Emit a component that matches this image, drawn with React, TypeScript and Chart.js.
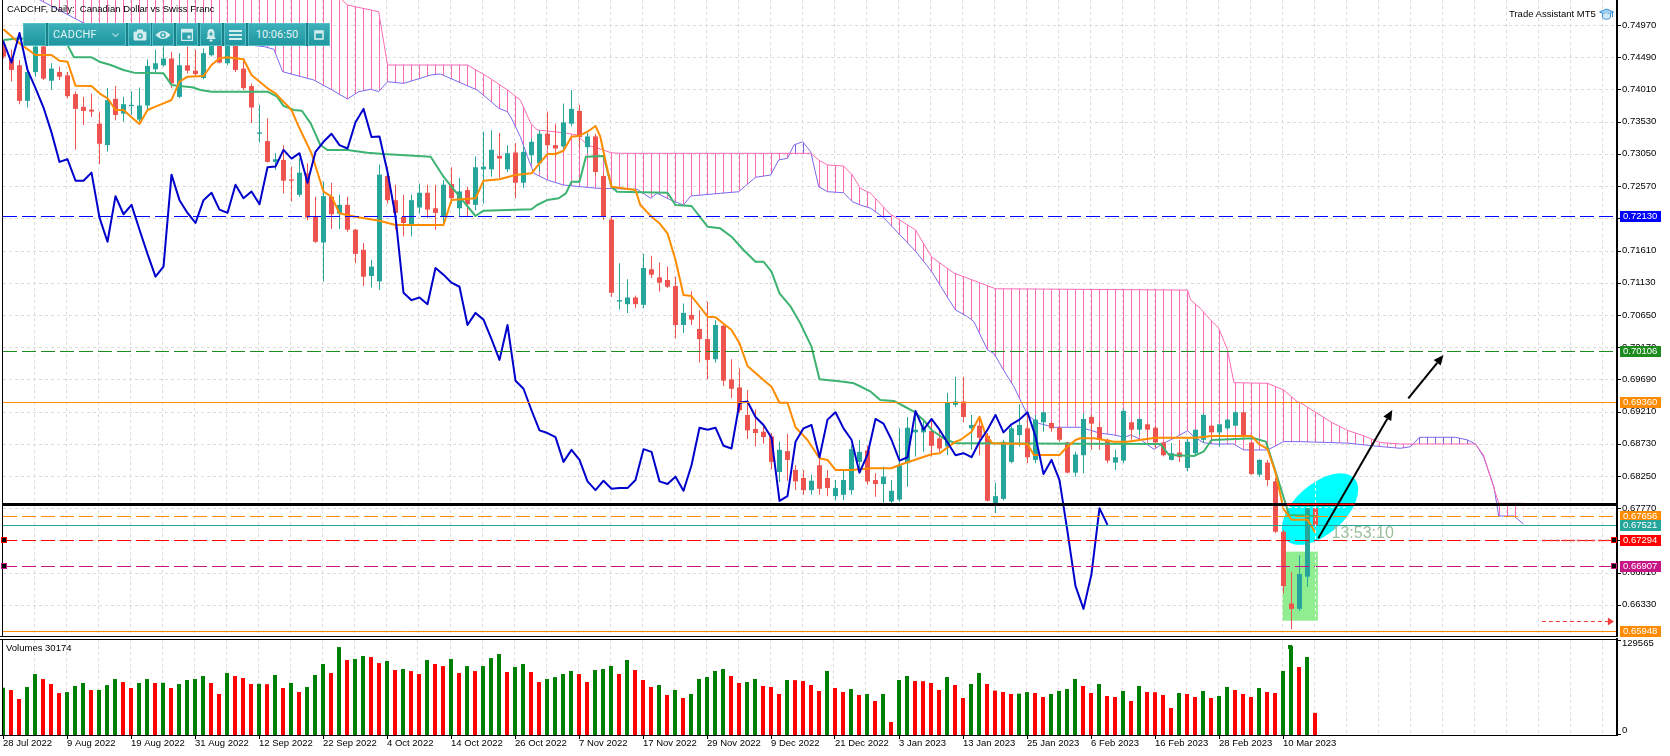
import React, { useEffect, useRef } from "react";
import { Chart, registerables } from "chart.js";

Chart.register(...registerables);

// ---------------- data ----------------
const DATE_LABELS = [
  "28 Jul 2022", "9 Aug 2022", "19 Aug 2022", "31 Aug 2022", "12 Sep 2022", "22 Sep 2022",
  "4 Oct 2022", "14 Oct 2022", "26 Oct 2022", "7 Nov 2022", "17 Nov 2022", "29 Nov 2022",
  "9 Dec 2022", "21 Dec 2022", "3 Jan 2023", "13 Jan 2023", "25 Jan 2023", "6 Feb 2023",
  "16 Feb 2023", "28 Feb 2023", "10 Mar 2023",
];
const BARS_PER_LABEL = 8;

const OPEN = [
  .7465, .7446, .7437, .7384, .7427, .7465, .7414, .7427, .7422, .7394,
  .7375, .7371, .7350, .7318, .7387, .7365, .7376, .7356, .7377, .7431,
  .7437, .7447, .7390, .7437, .7429, .7418, .7452, .7470, .7440, .7483,
  .7432, .7406, .7335, .7324, .7293, .7296, .7267, .7244, .7276, .7211,
  .7173, .7241, .7216, .7229, .7192, .7162, .7123, .7115, .7272, .7236,
  .7211, .7200, .7225, .7247, .7224, .7212, .7260, .7224, .7251, .7229,
  .7282, .7282, .7302, .7282, .7307, .7262, .7303, .7291, .7335, .7318,
  .7316, .7350, .7369, .7315, .7331, .7272, .7207, .7085, .7081, .7091,
  .7080, .7133, .7121, .7117, .7108, .7050, .7065, .7044, .7029, .6999,
  .7049, .6969, .6957, .6916, .6895, .6891, .6884, .6831, .6862, .6834,
  .6822, .6804, .6841, .6822, .6795, .6797, .6804, .6846, .6863, .6819,
  .6813, .6787, .6790, .6844, .6890, .6890, .6892, .6881, .6869, .6931,
  .6936, .6896, .6900, .6885, .6784, .6791, .6846, .6886, .6896, .6849,
  .6905, .6904, .6897, .6875, .6830, .6856, .6913, .6898, .6879, .6845,
  .6848, .6905, .6894, .6902, .6897, .6875, .6849, .6860, .6837, .6859,
  .6879, .6900, .6890, .6896, .6900, .6920, .6875, .6827, .6845, .6817,
  .6742, .6635, .6627, .6675, .6777,
];
const HIGH = [
  .7475, .7460, .7445, .7435, .7475, .7475, .7440, .7435, .7427, .7398,
  .7390, .7395, .7368, .7403, .7406, .7390, .7398, .7404, .7446, .7460,
  .7466, .7457, .7455, .7465, .7460, .7462, .7482, .7480, .7490, .7490,
  .7447, .7410, .7378, .7358, .7306, .7318, .7286, .7298, .7291, .7241,
  .7264, .7262, .7244, .7241, .7193, .7172, .7147, .7289, .7286, .7259,
  .7244, .7244, .7261, .7259, .7259, .7266, .7285, .7269, .7256, .7301,
  .7338, .7340, .7336, .7318, .7321, .7316, .7328, .7340, .7368, .7350,
  .7380, .7400, .7378, .7336, .7335, .7277, .7211, .7142, .7118, .7094,
  .7156, .7153, .7143, .7137, .7122, .7082, .7100, .7072, .7085, .7057,
  .7050, .6999, .6985, .6953, .6924, .6903, .6889, .6876, .6888, .6841,
  .6834, .6827, .6852, .6834, .6819, .6834, .6871, .6879, .6870, .6829,
  .6839, .6819, .6896, .6913, .6921, .6909, .6909, .6894, .6949, .6973,
  .6973, .6916, .6911, .6889, .6815, .6879, .6899, .6932, .6921, .6916,
  .6921, .6905, .6899, .6876, .6861, .6918, .6916, .6906, .6881, .6864,
  .6925, .6906, .6911, .6904, .6899, .6876, .6874, .6879, .6881, .6894,
  .6918, .6901, .6903, .6910, .6922, .6922, .6876, .6850, .6849, .6822,
  .6745, .6682, .6707, .6783, .6787,
];
const LOW = [
  .7447, .7413, .7379, .7374, .7420, .7415, .7400, .7415, .7388, .7311,
  .7348, .7360, .7290, .7308, .7355, .7353, .7363, .7353, .7370, .7427,
  .7435, .7403, .7388, .7425, .7421, .7416, .7450, .7440, .7437, .7427,
  .7400, .7351, .7322, .7292, .7281, .7246, .7234, .7241, .7206, .7172,
  .7115, .7193, .7193, .7189, .7142, .7108, .7106, .7102, .7231, .7192,
  .7182, .7182, .7216, .7209, .7192, .7202, .7231, .7211, .7211, .7221,
  .7231, .7271, .7269, .7278, .7239, .7254, .7290, .7279, .7311, .7300,
  .7311, .7346, .7313, .7306, .7272, .7207, .7092, .7073, .7068, .7075,
  .7075, .7120, .7100, .7105, .7030, .7038, .7050, .6994, .6969, .6994,
  .6959, .6941, .6919, .6880, .6869, .6873, .6835, .6816, .6818, .6804,
  .6797, .6797, .6797, .6795, .6789, .6789, .6797, .6834, .6812, .6794,
  .6785, .6781, .6787, .6809, .6854, .6861, .6854, .6861, .6856, .6928,
  .6905, .6864, .6856, .6787, .6770, .6789, .6844, .6869, .6844, .6844,
  .6891, .6891, .6876, .6829, .6824, .6829, .6864, .6864, .6844, .6834,
  .6844, .6879, .6886, .6879, .6866, .6854, .6848, .6846, .6832, .6856,
  .6874, .6879, .6869, .6894, .6899, .6881, .6827, .6824, .6810, .6740,
  .6650, .65965, .6624, .6660, .6748,
];
const CLOSE = [
  .7450, .7430, .7384, .7427, .7465, .7417, .7432, .7420, .7391, .7372,
  .7369, .7368, .7320, .7385, .7363, .7379, .7378, .7377, .7436, .7440,
  .7447, .7410, .7437, .7429, .7424, .7455, .7472, .7441, .7485, .7430,
  .7403, .7374, .7337, .7293, .7297, .7265, .7265, .7277, .7210, .7174,
  .7242, .7215, .7229, .7192, .7156, .7122, .7137, .7274, .7236, .7217,
  .7202, .7236, .7247, .7222, .7217, .7259, .7239, .7249, .7230, .7285,
  .7286, .7311, .7298, .7306, .7262, .7308, .7323, .7335, .7318, .7313,
  .7352, .7372, .7330, .7331, .7278, .7212, .7098, .7087, .7091, .7081,
  .7135, .7125, .7113, .7107, .7050, .7068, .7058, .7029, .6998, .7050,
  .6967, .6955, .6923, .6893, .6889, .6883, .6846, .6864, .6849, .6817,
  .6804, .6818, .6806, .6807, .6807, .6819, .6865, .6861, .6817, .6813,
  .6824, .6803, .6841, .6897, .6894, .6897, .6870, .6866, .6934, .6936,
  .6913, .6901, .6882, .6788, .6795, .6876, .6896, .6901, .6853, .6909,
  .6920, .6896, .6879, .6830, .6857, .6910, .6903, .6879, .6848, .6853,
  .6922, .6894, .6910, .6894, .6875, .6856, .6859, .6853, .6876, .6894,
  .6916, .6890, .6902, .6909, .6920, .6884, .6828, .6849, .6819, .6742,
  .6661, .6627, .6679, .6777, .67521,
];
const VOLUME = [
  64500, 61300, 49100, 65400, 83100, 76300, 69500, 57200, 58600, 66800,
  70900, 61300, 61500, 68100, 76300, 72200, 64100, 70900, 76300, 70900,
  71200, 64100, 69500, 75000, 76300, 80400, 70900, 55900, 84500, 80400,
  77700, 69500, 69800, 69300, 81800, 64100, 70900, 58600, 65400, 81800,
  96800, 84500, 119900, 102200, 103600, 107700, 106300, 98100, 100900, 88600,
  90000, 87200, 83100, 102200, 96800, 94000, 103600, 84500, 94000, 87200,
  94000, 104900, 110400, 85900, 92700, 96800, 85900, 72200, 76300, 79000,
  83200, 87300, 83100, 72300, 88600, 90000, 94100, 83200, 102300, 88600,
  75000, 65500, 68200, 54600, 61400, 50500, 55900, 76400, 79100, 87300,
  90000, 80500, 70900, 72300, 76400, 66800, 65500, 55900, 75000, 74800,
  73600, 68200, 60000, 87300, 64100, 58600, 62700, 54600, 55900, 46400,
  55900, 17700, 75000, 80500, 73600, 73400, 70900, 61400, 79100, 68200,
  50500, 69600, 84600, 69600, 60500, 58600, 55900, 56400, 58600, 57300,
  51800, 55900, 60000, 62700, 76400, 66800, 57300, 69600, 53200, 51800,
  60000, 46400, 66800, 58600, 58400, 54600, 36800, 57300, 55900, 51800,
  60000, 50500, 53200, 65500, 61400, 55900, 51800, 64100, 58600, 57300,
  87300, 121400, 92700, 106400, 30174,
];
const VOLUME_SCALE_MAX = 129565;

// Ichimoku lines, vertices: [bar index, price]
const TENKAN = [
  [0, .74906], [2, .74697], [4, .74523], [6, .74523], [7, .74438], [8, .74423], [9, .74066], [11, .74061],
  [12, .73952], [13, .73878], [14, .73703], [15, .73703], [16, .73595], [17, .73495], [18, .73703], [19, .73753],
  [20, .73803], [21, .73853], [22, .74125], [23, .742], [25, .7421], [26, .74374], [27, .74474], [28, .74489],
  [30, .74459], [31, .74225], [33, .74027], [34, .73952], [36, .73703], [37, .73431], [38.5, .73058], [40, .72486],
  [41, .72412], [42, .72164], [44, .72114], [47, .72054], [49, .7199], [55, .7199], [56, .72363], [59, .72388],
  [60, .72651], [62, .72671], [64, .72735], [66, .7276], [67, .72909], [68, .73048], [69, .73048], [70, .73097],
  [71, .73306], [72, .73321], [73, .7338], [74, .73465], [74.6, .73306], [75.5, .7281], [76, .72561], [79, .72512],
  [79.6, .72288], [81, .72114], [82, .72015], [83, .71866], [84, .71468], [85, .70947], [86, .70932], [88, .70624],
  [89, .70615], [91, .70425], [92, .70227], [93, .69889], [95, .6968], [96, .69581], [97, .69342], [98, .69342],
  [99, .68976], [100.5, .68787], [102, .68514], [103, .68489], [104, .6834], [106, .6834], [108.4, .68365], [111, .68365],
  [112, .68414], [116, .68574], [117, .68588], [119, .68762], [119.6, .68787], [121, .6891], [122, .69134], [122.7, .68886],
  [123.6, .68737], [128, .68727], [128.8, .68563], [132, .68563], [133, .68687], [134, .68787], [134.6, .68812], [136.3, .68812],
  [138.8, .68762], [140.5, .68762], [142, .68787], [144, .68821], [149, .68821], [151, .68846], [156, .68846], [157, .68722],
  [158, .68653], [159, .6830], [160, .6776], [161, .6760], [163, .6760], [164, .6740],
];
const KIJUN = [
  [0, .74747], [2, .74772], [7, .747], [8, .74672], [8.8, .74489], [11, .74489], [12, .74423], [13.4, .74374],
  [15, .743], [16.3, .7426], [20, .7425], [21, .74076], [22, .74061], [23.6, .74042], [24.6, .74002], [26, .73977],
  [33, .73977], [34.2, .73902], [35, .73764], [36.3, .73703], [37.3, .73693], [38.4, .73505], [39.6, .73182], [40.5, .73108],
  [43, .73108], [45.5, .73067], [47.5, .73048], [53.4, .73008], [55, .7271], [57, .72412], [59, .72124], [60, .72203],
  [66, .72224], [66.7, .72288], [68, .72363], [69.4, .72388], [70.3, .72462], [71, .72635], [72, .72635], [72.8, .73008],
  [75, .73018], [76, .72561], [76.7, .72486], [83, .72471], [84, .72288], [86, .72273], [88, .71965], [89.6, .7194],
  [91, .71816], [92.5, .71618], [94, .71443], [95, .71443], [96, .71294], [97, .70972], [98.4, .70773], [99.6, .70525],
  [101, .70177], [102, .69691], [105, .69656], [106.3, .69631], [107, .69591], [108.4, .69506], [109.6, .69383], [111.3, .69368],
  [112.5, .69293], [113.8, .69208], [115, .69085], [116, .68936], [117.5, .68812], [119, .68737], [144.6, .68727], [145.7, .68563],
  [148.8, .68548], [150, .68612], [151, .68787], [156.3, .68812], [157.8, .68762], [159.2, .6824], [160.7, .6767], [164, .67655],
];
const SPAN_A = [
  [0, .756], [4.6, .7534], [10, .75], [15, .7485], [25, .7475], [32.6, .74647], [33.8, .74608], [34.9, .74274],
  [38.8, .7415], [40.7, .74027], [43, .73868], [44.4, .73977], [45.9, .74012], [46.9, .73977], [48, .74125], [50, .741],
  [52.1, .74176], [53.4, .74225], [54.6, .7424], [59.2, .74002], [60.7, .73853], [61.9, .73729], [63, .73678], [63.6, .73555],
  [64.6, .73306], [65.5, .73008], [66.3, .7276], [68, .7266], [70, .72586], [74.2, .72537], [79.2, .72522], [80.9, .72388],
  [81.7, .72462], [83.4, .72363], [85, .72288], [85.9, .72422], [89.6, .72462], [91.9, .72486], [94, .72701], [95.9, .72735],
  [96.9, .72959], [98, .72984], [98.8, .73182], [99.9, .73231], [100.9, .73082], [101.9, .72561], [103, .72486], [105, .72471],
  [106.1, .72337], [107.1, .72288], [108.4, .72239], [110, .721], [112, .7185], [114, .716], [116, .713], [118.2, .70873],
  [119, .70724], [120.5, .70624], [121.3, .7055], [123, .70128], [123.8, .70078], [125, .6983], [126.3, .69581], [127.1, .69383],
  [128, .6916], [129.4, .69035], [131.3, .68976], [134.6, .68976], [137.1, .68887], [138.8, .68862], [140.1, .68827], [140.9, .68862],
  [142.1, .68797], [143.8, .68648], [145, .68737], [146.7, .68836], [148, .68925], [148.8, .68836], [150, .68747], [151.3, .68727],
  [153.8, .68727], [155, .68638], [158, .68638], [158.8, .68687], [160, .68762], [162.1, .68762], [168, .6874], [172, .6869],
  [174.6, .68663], [175.9, .68687], [177, .68827], [181.5, .68827], [183, .68787], [184, .68727], [185, .68538], [186.3, .68091],
  [186.9, .67654], [188.8, .67654], [190, .67535],
];
const SPAN_B = [
  [0, .76], [42, .7538], [43, .75268], [46.9, .75168], [48, .74374], [58, .74374], [60.5, .742], [63, .74002],
  [64.6, .73853], [65.9, .73505], [66.7, .73406], [70, .73365], [71.7, .73331], [73, .73182], [75, .73108], [75.9, .73067],
  [77.1, .73058], [100.9, .73058], [101.9, .72959], [103, .72884], [105, .7287], [106.1, .72735], [107.1, .72537], [108.4, .72462],
  [110.8, .72155], [114, .71916], [116, .71513], [118.8, .71275], [124, .7104], [148, .7102], [148.4, .70873], [149.6, .70749],
  [150.9, .70575], [151.9, .70451], [153, .70128], [153.8, .69641], [158, .69631], [160, .69532], [161.7, .69358], [162.1, .69343],
  [164, .692], [166, .6905], [168, .6893], [170, .6885], [172, .6875], [174.6, .68727], [184, .68727], [185, .68563],
  [186.9, .67843], [190, .67843],
];
const CHIKOU_SHIFT = 26;

const PRICE_TICKS = [
  0.7497, 0.7449, 0.7401, 0.7353, 0.7305, 0.7257, 0.7209, 0.7161, 0.7113, 0.7065,
  0.7017, 0.6969, 0.6921, 0.6873, 0.6825, 0.6777, 0.6729, 0.6681, 0.6633,
];
const LEVELS = [0.7213, 0.70106, 0.6936, 0.6783, 0.67656, 0.67521, 0.67294, 0.66907, 0.65948];

// drawn objects anchored at [bar index, price]
const ZONE_BOX = [159.9, 0.67123, 164.3, 0.66094];
const ELLIPSE_CENTER = [164.56, 0.67757];
const ARROW_1 = [164.35, 0.67322, 173.6, 0.69234];
const ARROW_2 = [175.6, 0.69408, 180.0, 0.70053];
const RED_SEGMENT = [160.4, 168.9, 0.6783];
const TIMER_ANCHOR = [166.0, 0.67396];
const TIMER_TEXT = "13:53:10";
const PENDING_ARROW = [192.3, 201.3, 0.6609];
const PENDING_DOTS = [192.3, 201.0, 0.67294];

// ---------------- layout / style ----------------
const W = 1670;
const MAIN_H = 637;
const VOL_TOP = 638;
const VOL_H = 118;
const AXIS_W = 53;
const PX_PER_BAR = 8;
const PLOT_W = 1614;
const MAIN_X_MIN = -0.0625;
const VOL_X_MIN = 0;
const PRICE_MIN = 0.658661;
const PRICE_MAX = 0.753425;
const FONT = '"Liberation Sans", Arial, sans-serif';
const BULL = "#26a69a";
const BEAR = "#ef5350";

const LEVEL_STYLE = [
  { color: "#0000ff", dash: [14, 5], width: 1, label: true },
  { color: "#1e8b1e", dash: [14, 5], width: 1, label: true },
  { color: "#ff8c00", dash: [], width: 1, label: true },
  { color: "#000000", dash: [], width: 3, label: false },
  { color: "#ff8c00", dash: [14, 5], width: 1, label: true },
  { color: "#26a69a", dash: [], width: 1, label: true },
  { color: "#ff0000", dash: [14, 5], width: 1, label: true },
  { color: "#c71585", dash: [14, 5], width: 1, label: true },
  { color: "#ff8c00", dash: [], width: 1, label: true },
];

function makeHatch(color: string) {
  const c = document.createElement("canvas");
  c.width = 8;
  c.height = 4;
  const g = c.getContext("2d")!;
  g.fillStyle = color;
  g.fillRect(3, 0, 1, 4);
  return g.createPattern(c, "repeat");
}

function drawArrow(ctx: CanvasRenderingContext2D, x1: number, y1: number, x2: number, y2: number) {
  const ang = Math.atan2(y2 - y1, x2 - x1);
  const hl = 10, hw = 4.5;
  const bx = x2 - Math.cos(ang) * hl, by = y2 - Math.sin(ang) * hl;
  ctx.strokeStyle = "#000";
  ctx.fillStyle = "#000";
  ctx.lineWidth = 2;
  ctx.setLineDash([]);
  ctx.beginPath();
  ctx.moveTo(x1, y1);
  ctx.lineTo(bx, by);
  ctx.stroke();
  ctx.beginPath();
  ctx.moveTo(x2, y2);
  ctx.lineTo(bx + Math.sin(ang) * hw, by - Math.cos(ang) * hw);
  ctx.lineTo(bx - Math.sin(ang) * hw, by + Math.cos(ang) * hw);
  ctx.closePath();
  ctx.fill();
}

const mainDeco = {
  id: "mainDeco",
  beforeDatasetsDraw(chart: any) {
    const { ctx, chartArea: a, scales } = chart;
    const xs = scales.x, ys = scales.y;
    ctx.save();
    ctx.beginPath();
    ctx.rect(a.left, a.top, a.right - a.left, a.bottom - a.top);
    ctx.clip();
    // grid
    ctx.strokeStyle = "#dcdcdc";
    ctx.lineWidth = 1;
    ctx.setLineDash([3, 3]);
    ctx.beginPath();
    for (const v of PRICE_TICKS) {
      const py = Math.round(ys.getPixelForValue(v)) + 0.5;
      ctx.moveTo(a.left, py);
      ctx.lineTo(a.right, py);
    }
    for (let k = 0; k * 4 <= xs.max; k++) {
      const px = Math.floor(xs.getPixelForValue(k * 4)) - 0.5;
      ctx.moveTo(px, a.top);
      ctx.lineTo(px, a.bottom);
    }
    ctx.stroke();
    ctx.setLineDash([]);
    // light green zone
    const zx0 = xs.getPixelForValue(ZONE_BOX[0]);
    const zx1 = xs.getPixelForValue(ZONE_BOX[2]);
    const zy0 = ys.getPixelForValue(ZONE_BOX[1]);
    const zy1 = ys.getPixelForValue(ZONE_BOX[3]);
    ctx.fillStyle = "#90ee90";
    ctx.fillRect(zx0, zy0, zx1 - zx0, zy1 - zy0);
    // cyan ellipse
    ctx.fillStyle = "#00ffff";
    ctx.beginPath();
    ctx.ellipse(xs.getPixelForValue(ELLIPSE_CENTER[0]), ys.getPixelForValue(ELLIPSE_CENTER[1]), 46, 25, (-41.5 * Math.PI) / 180, 0, Math.PI * 2);
    ctx.fill();
    ctx.restore();
  },
  afterDatasetsDraw(chart: any) {
    const { ctx, chartArea: a, scales } = chart;
    const xs = scales.x, ys = scales.y;
    ctx.save();
    ctx.beginPath();
    ctx.rect(a.left, a.top, a.right - a.left, a.bottom - a.top);
    ctx.clip();
    // horizontal levels
    LEVELS.forEach((v, k) => {
      const st = LEVEL_STYLE[k];
      const py = st.width % 2 === 1 ? Math.round(ys.getPixelForValue(v)) + 0.5 : ys.getPixelForValue(v);
      ctx.strokeStyle = st.color;
      ctx.lineWidth = st.width;
      ctx.setLineDash(st.dash);
      ctx.beginPath();
      ctx.moveTo(a.left, py);
      ctx.lineTo(a.right, py);
      ctx.stroke();
    });
    ctx.setLineDash([]);
    // red segment on the black line
    ctx.strokeStyle = "#ff0000";
    ctx.lineWidth = 1.5;
    ctx.beginPath();
    const ry = ys.getPixelForValue(RED_SEGMENT[2]);
    ctx.moveTo(xs.getPixelForValue(RED_SEGMENT[0]), ry);
    ctx.lineTo(xs.getPixelForValue(RED_SEGMENT[1]), ry);
    ctx.stroke();
    // white dashed guides inside the zone
    ctx.strokeStyle = "rgba(255,255,255,0.9)";
    ctx.lineWidth = 1;
    ctx.setLineDash([3, 3]);
    ctx.beginPath();
    const gx = Math.round(xs.getPixelForValue(ZONE_BOX[2]) - 3) + 0.5;
    ctx.moveTo(gx, ys.getPixelForValue(0.68518));
    ctx.lineTo(gx, ys.getPixelForValue(ZONE_BOX[3]));
    const gy = Math.round(ys.getPixelForValue(0.67788)) + 0.5;
    ctx.moveTo(xs.getPixelForValue(ZONE_BOX[0]), gy);
    ctx.lineTo(xs.getPixelForValue(168.0), gy);
    ctx.stroke();
    // pending order marks (dotted red)
    ctx.strokeStyle = "#f03c3c";
    ctx.setLineDash([4, 3]);
    ctx.lineWidth = 1.5;
    const pdy = Math.round(ys.getPixelForValue(PENDING_DOTS[2])) + 0.5;
    ctx.beginPath();
    ctx.moveTo(xs.getPixelForValue(PENDING_DOTS[0]), pdy);
    ctx.lineTo(xs.getPixelForValue(PENDING_DOTS[1]), pdy);
    ctx.stroke();
    const pay = Math.round(ys.getPixelForValue(PENDING_ARROW[2])) + 0.5;
    const pax0 = xs.getPixelForValue(PENDING_ARROW[0]);
    const pax1 = xs.getPixelForValue(PENDING_ARROW[1]);
    ctx.lineWidth = 1;
    ctx.beginPath();
    ctx.moveTo(pax0, pay);
    ctx.lineTo(pax1 - 4, pay);
    ctx.stroke();
    ctx.setLineDash([]);
    ctx.fillStyle = "#f03c3c";
    ctx.beginPath();
    ctx.moveTo(pax1, pay);
    ctx.lineTo(pax1 - 6, pay - 4);
    ctx.lineTo(pax1 - 6, pay + 4);
    ctx.closePath();
    ctx.fill();
    // arrows
    drawArrow(ctx, xs.getPixelForValue(ARROW_1[0]), ys.getPixelForValue(ARROW_1[1]), xs.getPixelForValue(ARROW_1[2]), ys.getPixelForValue(ARROW_1[3]));
    drawArrow(ctx, xs.getPixelForValue(ARROW_2[0]), ys.getPixelForValue(ARROW_2[1]), xs.getPixelForValue(ARROW_2[2]), ys.getPixelForValue(ARROW_2[3]));
    // timer text
    ctx.fillStyle = "#9cbf9c";
    ctx.font = `16px ${FONT}`;
    ctx.textBaseline = "middle";
    ctx.textAlign = "left";
    ctx.fillText(TIMER_TEXT, xs.getPixelForValue(TIMER_ANCHOR[0]), ys.getPixelForValue(TIMER_ANCHOR[1]));
    ctx.restore();
  },
  afterDraw(chart: any) {
    const { ctx, chartArea: a, scales } = chart;
    const ys = scales.y;
    ctx.save();
    ctx.fillStyle = "#000";
    ctx.fillRect(a.right - 1, 0, 2, a.bottom + 1);
    ctx.fillRect(0, a.bottom, a.right, 1);
    ctx.fillRect(2, 0, 1, a.bottom);
    for (const v of PRICE_TICKS) {
      const py = Math.round(ys.getPixelForValue(v));
      ctx.fillRect(a.right + 1, py, 3, 1);
    }
    // edge markers for the two pending levels
    [[6, "#ff0000"], [7, "#c71585"]].forEach(([k, col]: any) => {
      const py = Math.round(ys.getPixelForValue(LEVELS[k]));
      for (const mx of [1, a.right - 6]) {
        ctx.fillStyle = col;
        ctx.fillRect(mx, py - 3, 6, 6);
        ctx.fillStyle = "#000";
        ctx.fillRect(mx + 1, py - 2, 4, 4);
      }
    });
    // price labels
    ctx.font = `9.5px ${FONT}`;
    ctx.textBaseline = "middle";
    ctx.textAlign = "left";
    LEVELS.forEach((v, k) => {
      const st = LEVEL_STYLE[k];
      if (!st.label) return;
      const py = Math.round(ys.getPixelForValue(v));
      ctx.fillStyle = st.color;
      ctx.fillRect(a.right + 3, py - 5, 41, 11);
      ctx.fillStyle = "#ffffff";
      ctx.fillText(v.toFixed(5), a.right + 6, py + 0.5);
    });
    ctx.restore();
  },
};

const volDeco = {
  id: "volDeco",
  beforeDatasetsDraw(chart: any) {
    const { ctx, chartArea: a, scales } = chart;
    const xs = scales.x;
    ctx.save();
    ctx.strokeStyle = "#dcdcdc";
    ctx.lineWidth = 1;
    ctx.setLineDash([3, 3]);
    ctx.beginPath();
    for (let k = 0; k * 4 <= xs.max; k++) {
      const px = Math.floor(xs.getPixelForValue(k * 4)) - 0.5;
      ctx.moveTo(px, a.top);
      ctx.lineTo(px, a.bottom);
    }
    ctx.stroke();
    ctx.restore();
  },
  afterDraw(chart: any) {
    const { ctx, chartArea: a, scales } = chart;
    const xs = scales.x;
    ctx.save();
    ctx.fillStyle = "#000";
    ctx.fillRect(0, 1, a.right, 1);
    ctx.fillRect(0, a.bottom, a.right, 1);
    ctx.fillRect(a.right - 1, 0, 2, a.bottom + 1);
    ctx.fillRect(2, 1, 1, a.bottom);
    DATE_LABELS.forEach((_, k) => {
      ctx.fillRect(Math.floor(xs.getPixelForValue(k * BARS_PER_LABEL)), a.bottom + 1, 1, 3);
    });
    ctx.fillRect(a.right + 1, a.top, 3, 1);
    ctx.fillRect(a.right + 1, a.bottom - 1, 3, 1);
    ctx.font = `9.5px ${FONT}`;
    ctx.textBaseline = "middle";
    ctx.textAlign = "left";
    ctx.fillText(String(VOLUME_SCALE_MAX), a.right + 5, a.top + 3.5);
    ctx.fillText("0", a.right + 5, a.bottom - 5);
    ctx.fillText(`Volumes ${VOLUME[VOLUME.length - 1]}`, 6, 10);
    ctx.fillStyle = "#008000";
    ctx.fillRect(1288, 7, 4, 4);
    ctx.restore();
  },
};

const ICON = "#d3ecee";

function Seg({ left, width, children }: any) {
  return (
    <div
      style={{
        position: "absolute", left, top: 0, width, height: 23, boxSizing: "border-box",
        border: "1px solid #56c0c7", background: "linear-gradient(#3cb0b9, #1f96a0)",
        display: "flex", alignItems: "center", justifyContent: "center",
      }}
    >
      {children}
    </div>
  );
}

function Toolbar() {
  return (
    <div style={{ position: "absolute", left: 23, top: 23, width: 307, height: 23, background: "#178089" }}>
      <Seg left={0} width={23} />
      <Seg left={25} width={78}>
        <div style={{ position: "absolute", left: 4, top: 4, font: "11px Roboto, sans-serif", color: "#e2f3f4", letterSpacing: 0.2 }}>CADCHF</div>
        <svg style={{ position: "absolute", right: 6, top: 9 }} width="7" height="5" viewBox="0 0 7 5">
          <path d="M0.5 0.5 L3.5 3.5 L6.5 0.5" stroke="#a9dade" strokeWidth="1.2" fill="none" />
        </svg>
      </Seg>
      <Seg left={105} width={23}>
        <svg width="14" height="12" viewBox="0 0 14 12">
          <rect x="0.5" y="2.5" width="13" height="9" rx="1.5" fill={ICON} />
          <rect x="4" y="0.5" width="6" height="3" fill={ICON} />
          <circle cx="7" cy="7" r="2.7" fill="#2aa0aa" />
          <circle cx="7" cy="7" r="1.4" fill={ICON} />
        </svg>
      </Seg>
      <Seg left={129} width={22}>
        <svg width="16" height="10" viewBox="0 0 16 10">
          <path d="M0.5 5 Q8 -3 15.5 5 Q8 13 0.5 5Z" fill={ICON} />
          <circle cx="8" cy="5" r="2.8" fill="#2aa0aa" />
          <circle cx="8" cy="5" r="1.4" fill={ICON} />
        </svg>
      </Seg>
      <Seg left={153} width={22}>
        <svg width="12" height="13" viewBox="0 0 12 13">
          <rect x="0.5" y="1.5" width="11" height="11" fill="none" stroke={ICON} strokeWidth="1.4" />
          <rect x="0.5" y="1.5" width="11" height="3" fill={ICON} />
          <rect x="6.5" y="7.5" width="3" height="3" fill={ICON} />
        </svg>
      </Seg>
      <Seg left={177} width={22}>
        <svg width="12" height="14" viewBox="0 0 12 14">
          <path d="M6 1 C3 1 2.5 3.5 2.5 6 L2.5 9 L1 11 L11 11 L9.5 9 L9.5 6 C9.5 3.5 9 1 6 1Z" fill={ICON} />
          <rect x="4.5" y="11.5" width="3" height="2" fill={ICON} />
          <path d="M6 3.8 V8 M4 6 H8" stroke="#2aa0aa" strokeWidth="1.2" />
        </svg>
      </Seg>
      <Seg left={201} width={22}>
        <svg width="13" height="10" viewBox="0 0 13 10">
          <rect x="0" y="0" width="13" height="2" fill={ICON} />
          <rect x="0" y="4" width="13" height="2" fill={ICON} />
          <rect x="0" y="8" width="13" height="2" fill={ICON} />
        </svg>
      </Seg>
      <Seg left={225} width={58}>
        <div style={{ font: "11px Roboto, sans-serif", color: "#e2f3f4" }}>10:06:50</div>
      </Seg>
      <Seg left={285} width={22}>
        <svg width="10" height="10" viewBox="0 0 10 10">
          <rect x="1" y="1" width="8" height="8" fill="none" stroke={ICON} strokeWidth="1.6" />
          <rect x="1" y="1" width="8" height="2.5" fill={ICON} />
        </svg>
      </Seg>
    </div>
  );
}

export default function App() {
  const mainRef = useRef<HTMLCanvasElement | null>(null);
  const volRef = useRef<HTMLCanvasElement | null>(null);

  useEffect(() => {
    if (!mainRef.current || !volRef.current) return;
    const candleColors = CLOSE.map((c, i) => (c >= OPEN[i] ? BULL : BEAR));
    const volColors = VOLUME.map((v, i) => (i === 0 || v > VOLUME[i - 1] ? "#008000" : "#ff0000"));
    const pinkHatch = makeHatch("#ff69b4");
    const purpleHatch = makeHatch("#7b68ee");
    const lineBase = { type: "line", pointRadius: 0, tension: 0, fill: false, borderJoinStyle: "round" };

    const main = new Chart(mainRef.current, {
      type: "bar",
      data: {
        datasets: [
          { ...lineBase, label: "Senkou Span B", data: SPAN_B.map(([x, y]) => ({ x, y })), borderColor: "#ff69b4", borderWidth: 1, order: 60 },
          {
            ...lineBase, label: "Senkou Span A", data: SPAN_A.map(([x, y]) => ({ x, y })), borderColor: "#7b68ee", borderWidth: 1,
            fill: { target: 0, above: purpleHatch, below: pinkHatch }, order: 60,
          },
          {
            type: "bar", label: "Wicks", data: LOW.map((l, i) => ({ x: i, y: [l, HIGH[i]] })), backgroundColor: candleColors,
            barThickness: 1, grouped: false, inflateAmount: 0, order: 50,
          },
          {
            type: "bar", label: "Bodies", data: OPEN.map((o, i) => ({ x: i, y: [Math.min(o, CLOSE[i]), Math.max(o, CLOSE[i])] })),
            backgroundColor: candleColors, barThickness: 5, grouped: false, inflateAmount: 0, minBarLength: 1, order: 40,
          },
          { ...lineBase, label: "Kijun-sen", data: KIJUN.map(([x, y]) => ({ x, y })), borderColor: "#3cb371", borderWidth: 2, order: 30 },
          { ...lineBase, label: "Tenkan-sen", data: TENKAN.map(([x, y]) => ({ x, y })), borderColor: "#ff8c00", borderWidth: 2, order: 25 },
          {
            ...lineBase, label: "Chikou Span", data: CLOSE.map((c, i) => ({ x: i - CHIKOU_SHIFT, y: c })),
            borderColor: "#0000cd", borderWidth: 2, order: 20,
          },
        ] as any,
      },
      options: {
        responsive: false,
        animation: false,
        events: [],
        layout: { padding: { left: 3, right: 0, top: 0, bottom: 1 }, autoPadding: false } as any,
        plugins: { legend: { display: false }, tooltip: { enabled: false } },
        scales: {
          x: { type: "linear", min: MAIN_X_MIN, max: MAIN_X_MIN + PLOT_W / PX_PER_BAR, display: false, offset: false },
          y: {
            type: "linear", position: "right", min: PRICE_MIN, max: PRICE_MAX,
            grid: { display: false, drawTicks: false }, border: { display: false },
            afterFit: (s: any) => { s.width = AXIS_W; s.paddingTop = 0; s.paddingBottom = 0; },
            afterBuildTicks: (s: any) => { s.ticks = PRICE_TICKS.map((v) => ({ value: v })); },
            ticks: {
              padding: 5, autoSkip: false, color: "#000", font: { family: FONT, size: 9.5 },
              callback: (v: any) => Number(v).toFixed(5),
            },
          },
        },
      } as any,
      plugins: [mainDeco],
    });

    const vol = new Chart(volRef.current, {
      type: "bar",
      data: {
        datasets: [
          {
            label: "Volumes", data: VOLUME.map((v, i) => ({ x: i, y: v })), backgroundColor: volColors,
            barThickness: 4, grouped: false, inflateAmount: 0,
          },
        ] as any,
      },
      options: {
        responsive: false,
        animation: false,
        events: [],
        layout: { padding: { left: 3, right: 0, top: 2, bottom: 0 }, autoPadding: false } as any,
        plugins: { legend: { display: false }, tooltip: { enabled: false } },
        scales: {
          x: {
            type: "linear", position: "bottom", min: VOL_X_MIN, max: VOL_X_MIN + PLOT_W / PX_PER_BAR, offset: false,
            grid: { display: false, drawTicks: false }, border: { display: false },
            afterBuildTicks: (s: any) => { s.ticks = DATE_LABELS.map((_, k) => ({ value: k * BARS_PER_LABEL })); },
            afterFit: (s: any) => { s.height = 21; s.paddingLeft = 0; s.paddingRight = 0; },
            ticks: {
              autoSkip: false, maxRotation: 0, minRotation: 0, align: "start", padding: 3, color: "#000",
              font: { family: FONT, size: 9.5 },
              callback: (v: any) => DATE_LABELS[Math.round(Number(v) / BARS_PER_LABEL)] ?? "",
            },
          },
          y: {
            type: "linear", position: "right", min: 0, max: VOLUME_SCALE_MAX,
            grid: { display: false }, border: { display: false }, ticks: { display: false },
            afterFit: (s: any) => { s.width = AXIS_W; s.paddingTop = 0; s.paddingBottom = 0; },
          },
        },
      } as any,
      plugins: [volDeco],
    });

    return () => {
      main.destroy();
      vol.destroy();
    };
  }, []);

  return (
    <div style={{ position: "fixed", left: 0, top: 0, width: W, height: 756, background: "#fff", overflow: "hidden" }}>
      <canvas ref={mainRef} width={W} height={MAIN_H} style={{ position: "absolute", left: 0, top: 0, width: W, height: MAIN_H }} />
      <canvas ref={volRef} width={W} height={VOL_H} style={{ position: "absolute", left: 0, top: VOL_TOP, width: W, height: VOL_H }} />
      <div style={{ position: "absolute", left: 7, top: 3, font: `9.5px ${FONT}`, lineHeight: "11px", color: "#000", whiteSpace: "pre" }}>
        {"CADCHF, Daily:  Canadian Dollar vs Swiss Franc"}
      </div>
      <div style={{ position: "absolute", left: 1509, top: 8, font: `9.5px ${FONT}`, lineHeight: "11px", color: "#000", whiteSpace: "pre" }}>
        Trade Assistant MT5
      </div>
      <svg style={{ position: "absolute", left: 1599, top: 8 }} width="15" height="13" viewBox="0 0 15 13">
        <path d="M7.5 1 L14.5 4 L7.5 7 L0.5 4 Z" fill="#9fd0f0" stroke="#3a8fd0" strokeWidth="1" />
        <path d="M3.5 5.8 V9.5 C5 11.8 10 11.8 11.5 9.5 V5.8" fill="#cfe8f8" stroke="#3a8fd0" strokeWidth="1" />
        <path d="M13.5 4.5 V9" stroke="#3a8fd0" strokeWidth="1" />
      </svg>
      <Toolbar />
    </div>
  );
}
